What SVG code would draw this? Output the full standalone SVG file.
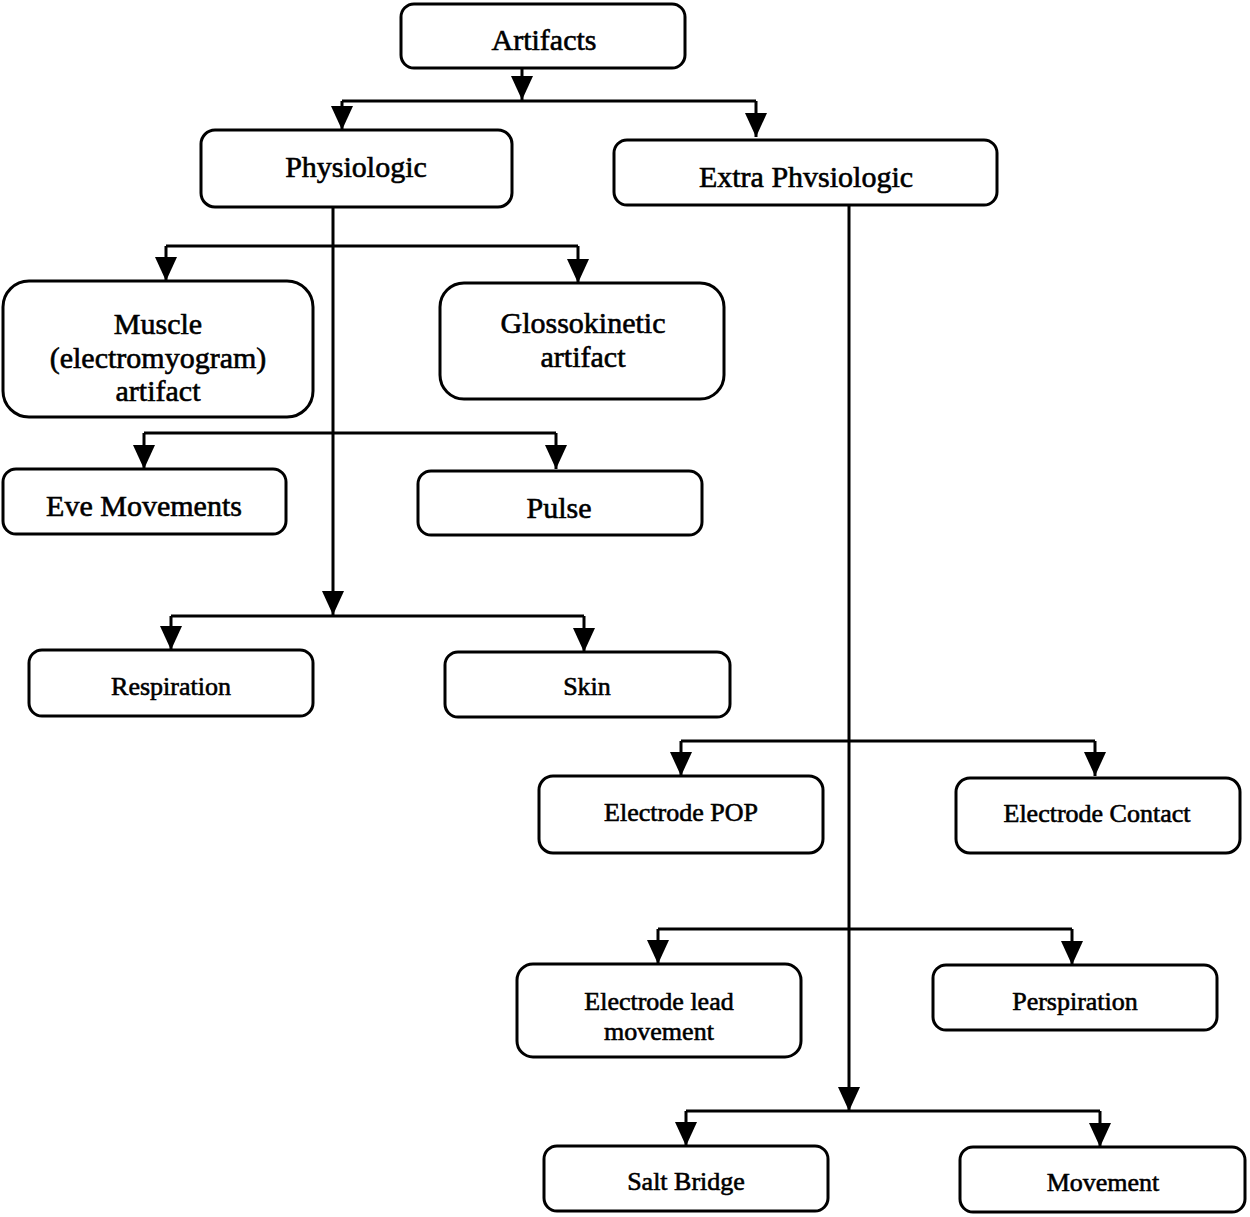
<svg xmlns="http://www.w3.org/2000/svg" width="1250" height="1217" viewBox="0 0 1250 1217">
<style>
.box{fill:#fff;stroke:#000;stroke-width:3}
.t{font-family:"Liberation Serif","Times New Roman",serif;font-size:30px;fill:#000;stroke:#000;stroke-width:0.6;text-anchor:middle}
.s{font-size:26px}
.c{fill:none;stroke:#000;stroke-width:3}
</style>
<defs>
<marker id="ah" markerUnits="userSpaceOnUse" markerWidth="26" markerHeight="24" refX="24" refY="12" orient="auto" viewBox="0 0 26 24">
<path d="M0,1 L24,12 L0,23 Z" fill="#000"/>
</marker>
</defs>
<rect width="1250" height="1217" fill="#fff"/>
<g id="connectors">
<path class="c" d="M522,68 V100" marker-end="url(#ah)"/>
<path class="c" d="M342,101 H756"/>
<path class="c" d="M342,101 V130" marker-end="url(#ah)"/>
<path class="c" d="M756,101 V137" marker-end="url(#ah)"/>
<path class="c" d="M333,207 V615" marker-end="url(#ah)"/>
<path class="c" d="M166,246 H578"/>
<path class="c" d="M166,246 V281" marker-end="url(#ah)"/>
<path class="c" d="M578,246 V283" marker-end="url(#ah)"/>
<path class="c" d="M144,433 H556"/>
<path class="c" d="M144,433 V469" marker-end="url(#ah)"/>
<path class="c" d="M556,433 V469" marker-end="url(#ah)"/>
<path class="c" d="M171,616 H584"/>
<path class="c" d="M171,616 V650" marker-end="url(#ah)"/>
<path class="c" d="M584,616 V652" marker-end="url(#ah)"/>
<path class="c" d="M849,205 V1111" marker-end="url(#ah)"/>
<path class="c" d="M681,741 H1095"/>
<path class="c" d="M681,741 V776" marker-end="url(#ah)"/>
<path class="c" d="M1095,741 V776" marker-end="url(#ah)"/>
<path class="c" d="M658,929 H1072"/>
<path class="c" d="M658,929 V964" marker-end="url(#ah)"/>
<path class="c" d="M1072,929 V965" marker-end="url(#ah)"/>
<path class="c" d="M686,1111 H1100"/>
<path class="c" d="M686,1111 V1146" marker-end="url(#ah)"/>
<path class="c" d="M1100,1111 V1147" marker-end="url(#ah)"/>
</g>
<g id="artifacts"><rect class="box" x="401" y="4" width="284" height="64" rx="13"/><text class="t" x="544" y="50">Artifacts</text></g>
<g id="physiologic"><rect class="box" x="201" y="130" width="311" height="77" rx="14"/><text class="t" x="356" y="177">Physiologic</text></g>
<g id="extra"><rect class="box" x="614" y="140" width="383" height="65" rx="13"/><text class="t" x="806" y="187">Extra Phvsiologic</text></g>
<g id="muscle"><rect class="box" x="3" y="281" width="310" height="136" rx="26"/><text class="t" x="158" y="334">Muscle</text><text class="t" x="158" y="368">(electromyogram)</text><text class="t" x="158" y="401">artifact</text></g>
<g id="glosso"><rect class="box" x="440" y="283" width="284" height="116" rx="24"/><text class="t" x="583" y="333">Glossokinetic</text><text class="t" x="583" y="367">artifact</text></g>
<g id="eye"><rect class="box" x="3" y="469" width="283" height="65" rx="13"/><text class="t" x="144" y="516">Eve Movements</text></g>
<g id="pulse"><rect class="box" x="418" y="471" width="284" height="64" rx="13"/><text class="t" x="559" y="518">Pulse</text></g>
<g id="respiration"><rect class="box" x="29" y="650" width="284" height="66" rx="13"/><text class="t s" x="171" y="695">Respiration</text></g>
<g id="skin"><rect class="box" x="445" y="652" width="285" height="65" rx="13"/><text class="t s" x="587" y="695">Skin</text></g>
<g id="pop"><rect class="box" x="539" y="776" width="284" height="77" rx="14"/><text class="t s" x="681" y="821">Electrode POP</text></g>
<g id="contact"><rect class="box" x="956" y="778" width="284" height="75" rx="14"/><text class="t s" x="1097" y="822">Electrode Contact</text></g>
<g id="lead"><rect class="box" x="517" y="964" width="284" height="93" rx="16"/><text class="t s" x="659" y="1010">Electrode lead</text><text class="t s" x="659" y="1040">movement</text></g>
<g id="perspiration"><rect class="box" x="933" y="965" width="284" height="65" rx="13"/><text class="t s" x="1075" y="1010">Perspiration</text></g>
<g id="salt"><rect class="box" x="544" y="1146" width="284" height="65" rx="13"/><text class="t s" x="686" y="1190">Salt Bridge</text></g>
<g id="movement"><rect class="box" x="960" y="1147" width="285" height="65" rx="13"/><text class="t s" x="1103" y="1191">Movement</text></g>
</svg>
